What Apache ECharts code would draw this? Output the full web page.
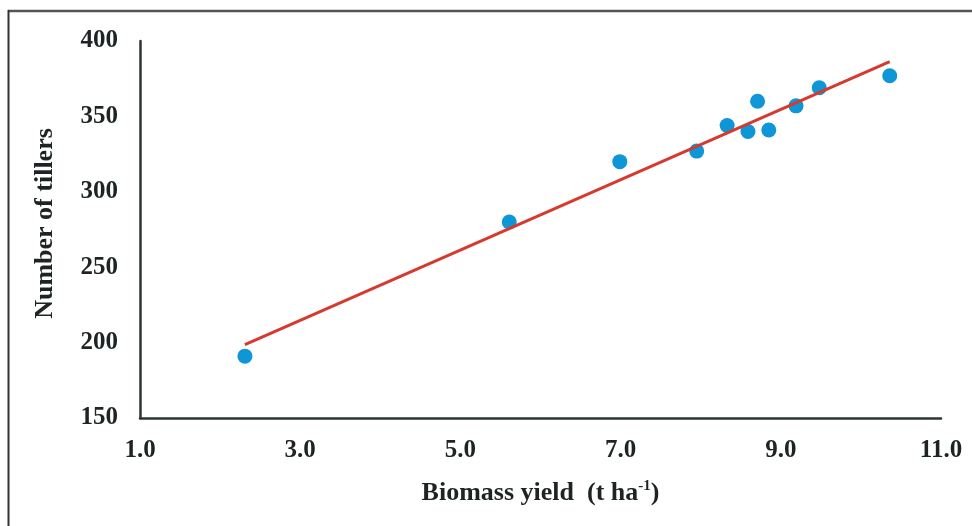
<!DOCTYPE html>
<html>
<head>
<meta charset="utf-8">
<script src="https://cdn.jsdelivr.net/npm/echarts@6/dist/echarts.min.js"></script>
<style>
html,body{margin:0;padding:0;background:#fff;}
#chart{width:972px;height:526px;}
</style>
</head>
<body>
<div id="chart"></div>
<script>
// Data
var biomassYield = [2.31, 5.61, 6.99, 7.95, 8.33, 8.59, 8.71, 8.85, 9.19, 9.48, 10.36];
var numberOfTillers = [191, 280, 320, 327, 344, 340, 360, 341, 357, 369, 377];
var xTickLabels = ['1.0', '3.0', '5.0', '7.0', '9.0', '11.0'];
var yTickLabels = ['150', '200', '250', '300', '350', '400'];

// Linear regression trendline
var n = biomassYield.length;
var mx = biomassYield.reduce(function(a,b){return a+b;},0)/n;
var my = numberOfTillers.reduce(function(a,b){return a+b;},0)/n;
var sxy = 0, sxx = 0;
for (var i=0;i<n;i++){ sxy += (biomassYield[i]-mx)*(numberOfTillers[i]-my); sxx += (biomassYield[i]-mx)*(biomassYield[i]-mx); }
var slope = sxy/sxx, intercept = my - slope*mx;
var xMin = Math.min.apply(null, biomassYield), xMax = Math.max.apply(null, biomassYield);
var trend = [[xMin, intercept+slope*xMin],[xMax, intercept+slope*xMax]];

var points = biomassYield.map(function(x,i){return [x, numberOfTillers[i]];});

var font = '"Liberation Serif","Times New Roman",serif';
var chart = echarts.init(document.getElementById('chart'), null, {renderer:'canvas'});
chart.setOption({
  backgroundColor:'#fff',
  animation:false,
  grid:{left:140,right:31,top:41,bottom:108},
  xAxis:{
    type:'value', min:1, max:11, interval:2,
    name:'Biomass yield  (t ha{sup|-1})', nameLocation:'middle', nameGap:61,
    nameTextStyle:{fontFamily:font,fontWeight:'bold',fontSize:26,color:'#1e2424',
      rich:{sup:{fontFamily:font,fontWeight:'bold',fontSize:15,color:'#1e2424',verticalAlign:'top',padding:[0,0,13,0]}}},
    axisLine:{show:true,lineStyle:{color:'#2b3535',width:2.5}},
    axisTick:{show:false}, splitLine:{show:false},
    axisLabel:{fontFamily:font,fontWeight:'bold',fontSize:25,color:'#1e2424',margin:20,
      formatter:function(v){var idx=Math.round((v-1)/2);return xTickLabels[idx]||'';}}
  },
  yAxis:{
    type:'value', min:150, max:400, interval:50,
    name:'Number of tillers', nameLocation:'middle', nameGap:82, nameRotate:90,
    nameTextStyle:{fontFamily:font,fontWeight:'bold',fontSize:26,color:'#1e2424',padding:[0,0,0,12]},
    axisLine:{show:true,lineStyle:{color:'#2b3535',width:2.5}},
    axisTick:{show:false}, splitLine:{show:false},
    axisLabel:{fontFamily:font,fontWeight:'bold',fontSize:25,color:'#1e2424',margin:22,
      formatter:function(v){var idx=Math.round((v-150)/50);return yTickLabels[idx]||'';}}
  },
  graphic:[
    {type:'line',shape:{x1:8,y1:11,x2:972,y2:11},style:{stroke:'#555',lineWidth:2.5},silent:true},
    {type:'line',shape:{x1:8.5,y1:10,x2:8.5,y2:526},style:{stroke:'#333',lineWidth:2},silent:true}
  ],
  series:[
    {type:'line',data:trend,symbol:'none',lineStyle:{color:'#d63a2f',width:3},z:3,silent:true},
    {type:'scatter',data:points,symbolSize:15,itemStyle:{color:'#0f96d7',opacity:1},z:2}
  ]
});
</script>
</body>
</html>
